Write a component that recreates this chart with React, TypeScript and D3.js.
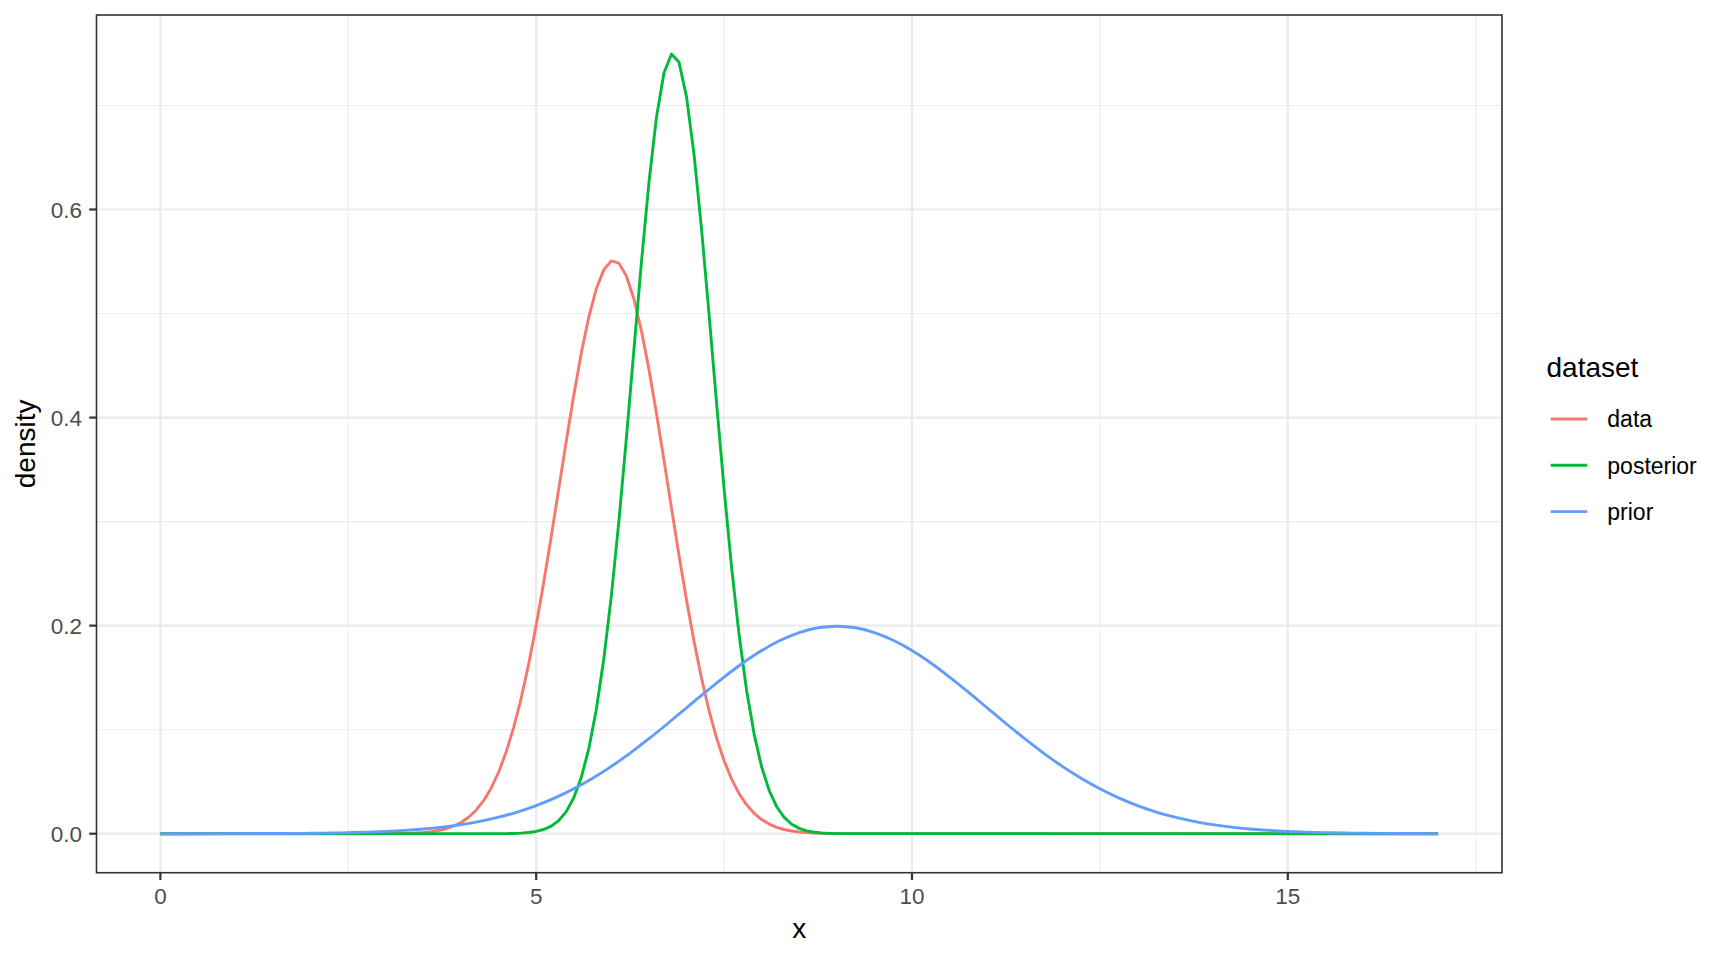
import React from "react";
import * as d3 from "d3";

// ---- data ----
const seriesNames = ["data", "posterior", "prior"];
const seriesColors = ["#F8766D", "#00BA38", "#619CFF"];

const xMin = 0;
const xMax = 17;

// data curve: sampled every 0.1 from x = 3.0 to 9.0 (≈0 elsewhere)
const dataStart = 3.0;
const dataStep = 0.1;
const dataValues = [
  0.00009, 0.00015, 0.00027, 0.00045, 0.00075, 0.00123, 0.00197, 0.00311, 0.0048, 0.00727,
  0.01081, 0.01578, 0.02259, 0.03172, 0.04371, 0.05908, 0.07836, 0.10196, 0.13015, 0.163,
  0.20029, 0.24146, 0.28561, 0.33144, 0.37733, 0.42148, 0.46191, 0.49663, 0.52389, 0.54219,
  0.55053, 0.54843, 0.53602, 0.51398, 0.48355, 0.44632, 0.40417, 0.3591, 0.31299, 0.26766,
  0.22458, 0.18487, 0.14931, 0.1183, 0.09196, 0.07015, 0.05249, 0.03854, 0.02775, 0.01961,
  0.01359, 0.00925, 0.00617, 0.00404, 0.0026, 0.00164, 0.00101, 0.00061, 0.00037, 0.00021,
  0.00012,
];

// posterior curve: sampled every 0.1 from x = 4.6 to 9.0
const posteriorStart = 4.6;
const posteriorStep = 0.1;
const posteriorValues = [
  0.00012, 0.00027, 0.00056, 0.00111,
  0.00216, 0.00403, 0.00727, 0.01266, 0.02128, 0.03454, 0.05409, 0.08178, 0.11935, 0.16813,
  0.22864, 0.30015, 0.3803, 0.46517, 0.54919, 0.62589, 0.68854, 0.73116, 0.74947, 0.74157,
  0.70828, 0.653, 0.58111, 0.49922, 0.41396, 0.33135, 0.25602, 0.19095, 0.13747, 0.09554,
  0.06409, 0.0415, 0.02594, 0.01565, 0.00912, 0.00512, 0.00278, 0.00146, 0.00074, 0.00036,
  0.00017,
];

// prior curve: sampled every 0.25 from x = 0 to 17
const priorStart = 0;
const priorStep = 0.25;
const priorValues = [
  0.00001, 0.00001, 0.00002, 0.00004, 0.00007, 0.00011, 0.00018, 0.00028, 0.00044, 0.00067,
  0.00101, 0.00151, 0.00222, 0.0032, 0.00455, 0.00636, 0.00877, 0.01189, 0.01587, 0.02086,
  0.027, 0.03439, 0.04314, 0.05327, 0.06476, 0.07751, 0.09132, 0.10594, 0.12098, 0.13603,
  0.15057, 0.16408, 0.17603, 0.18593, 0.19333, 0.19792, 0.19947,
  0.19792, 0.19333, 0.18593, 0.17603, 0.16408, 0.15057, 0.13603, 0.12098, 0.10594, 0.09132,
  0.07751, 0.06476, 0.05327, 0.04314, 0.03439, 0.027, 0.02086, 0.01587, 0.01189, 0.00877,
  0.00636, 0.00455, 0.0032, 0.00222, 0.00151, 0.00101, 0.00067, 0.00044, 0.00028, 0.00018,
  0.00011, 0.00007,
];

const xTicks = [0, 5, 10, 15];
const xMinor = [2.5, 7.5, 12.5, 17.5];
const yTicks = [0, 0.2, 0.4, 0.6];
const yTickLabels = ["0.0", "0.2", "0.4", "0.6"];
const yMinor = [0.1, 0.3, 0.5, 0.7];

type Pt = { x: number; y: number };

function buildSeries(start: number, step: number, values: number[]): Pt[] {
  const pts: Pt[] = values.map((v, i) => ({ x: +(start + i * step).toFixed(4), y: v }));
  const out: Pt[] = [];
  if (pts[0].x > xMin) out.push({ x: xMin, y: 0 });
  out.push(...pts);
  if (pts[pts.length - 1].x < xMax) out.push({ x: xMax, y: 0 });
  return out;
}

const allSeries: Pt[][] = [
  buildSeries(dataStart, dataStep, dataValues),
  buildSeries(posteriorStart, posteriorStep, posteriorValues),
  buildSeries(priorStart, priorStep, priorValues),
];

// ---- layout ----
const W = 1728;
const H = 960;
const panel = { left: 96.5, top: 15, right: 1502, bottom: 872.7 };
const FONT = "Liberation Sans, Arial, Helvetica, sans-serif";

export default function App() {
  const xSpan = xMax - xMin;
  const x = d3
    .scaleLinear()
    .domain([xMin - 0.05 * xSpan, xMax + 0.05 * xSpan])
    .range([panel.left, panel.right]);
  const yMaxVal = d3.max(allSeries.flat(), (d) => d.y) as number;
  const ySpan = yMaxVal;
  const y = d3
    .scaleLinear()
    .domain([0 - 0.05 * ySpan, yMaxVal + 0.05 * ySpan])
    .range([panel.bottom, panel.top]);

  const lineLinear = d3
    .line<Pt>()
    .x((d) => x(d.x))
    .y((d) => y(d.y));
  const lineSmooth = d3
    .line<Pt>()
    .curve(d3.curveMonotoneX)
    .x((d) => x(d.x))
    .y((d) => y(d.y));

  const legendX = 1550.7;
  const legendKeyW = 36.6;
  const legendY0 = 419;
  const legendDy = 46.3;

  return (
    <svg
      width={W}
      height={H}
      style={{ position: "absolute", left: 0, top: 0, background: "#fff" }}
      fontFamily={FONT}
    >
      <rect x={0} y={0} width={W} height={H} fill="#ffffff" />
      <defs>
        <clipPath id="panelClip">
          <rect x={panel.left} y={panel.top} width={panel.right - panel.left} height={panel.bottom - panel.top} />
        </clipPath>
      </defs>
      {/* minor grid */}
      <g stroke="#EBEBEB" strokeWidth={1.1}>
        {xMinor.map((v) => (
          <line key={"xm" + v} x1={x(v)} x2={x(v)} y1={panel.top} y2={panel.bottom} />
        ))}
        {yMinor.map((v) => (
          <line key={"ym" + v} x1={panel.left} x2={panel.right} y1={y(v)} y2={y(v)} />
        ))}
      </g>
      {/* major grid */}
      <g stroke="#EBEBEB" strokeWidth={2.2}>
        {xTicks.map((v) => (
          <line key={"xM" + v} x1={x(v)} x2={x(v)} y1={panel.top} y2={panel.bottom} />
        ))}
        {yTicks.map((v) => (
          <line key={"yM" + v} x1={panel.left} x2={panel.right} y1={y(v)} y2={y(v)} />
        ))}
      </g>
      {/* curves */}
      <g clipPath="url(#panelClip)" fill="none" strokeWidth={2.9} strokeLinejoin="round" strokeLinecap="butt">
        {allSeries.map((s, i) => (
          <path
            key={seriesNames[i]}
            d={(seriesNames[i] === "prior" ? lineSmooth(s) : lineLinear(s)) || ""}
            stroke={seriesColors[i]}
          />
        ))}
      </g>
      {/* panel border */}
      <rect
        x={panel.left}
        y={panel.top}
        width={panel.right - panel.left}
        height={panel.bottom - panel.top}
        fill="none"
        stroke="#333333"
        strokeWidth={1.6}
      />
      {/* axis ticks */}
      <g stroke="#333333" strokeWidth={2.2}>
        {xTicks.map((v) => (
          <line key={"xt" + v} x1={x(v)} x2={x(v)} y1={panel.bottom} y2={panel.bottom + 7.3} />
        ))}
        {yTicks.map((v) => (
          <line key={"yt" + v} x1={panel.left - 7.3} x2={panel.left} y1={y(v)} y2={y(v)} />
        ))}
      </g>
      <g fill="#4D4D4D" fontSize={22.5}>
        {xTicks.map((v) => (
          <text key={"xl" + v} x={x(v)} y={903.5} textAnchor="middle">
            {String(v)}
          </text>
        ))}
        {yTicks.map((v, i) => (
          <text key={"yl" + v} x={82} y={y(v) + 8.1} textAnchor="end">
            {yTickLabels[i]}
          </text>
        ))}
      </g>
      {/* axis titles */}
      <text x={(panel.left + panel.right) / 2} y={938} textAnchor="middle" fontSize={28} fill="#000">
        x
      </text>
      <text
        transform={`translate(35, ${(panel.top + panel.bottom) / 2}) rotate(-90)`}
        textAnchor="middle"
        fontSize={28}
        fill="#000"
      >
        density
      </text>
      {/* legend */}
      <text x={1546.5} y={377} fontSize={28} fill="#000">
        dataset
      </text>
      {seriesNames.map((n, i) => (
        <g key={"lg" + n}>
          <line
            x1={legendX}
            x2={legendX + legendKeyW}
            y1={legendY0 + i * legendDy}
            y2={legendY0 + i * legendDy}
            stroke={seriesColors[i]}
            strokeWidth={2.9}
          />
          <text x={1607.3} y={legendY0 + i * legendDy + 8.2} fontSize={23} fill="#000">
            {n}
          </text>
        </g>
      ))}
    </svg>
  );
}
